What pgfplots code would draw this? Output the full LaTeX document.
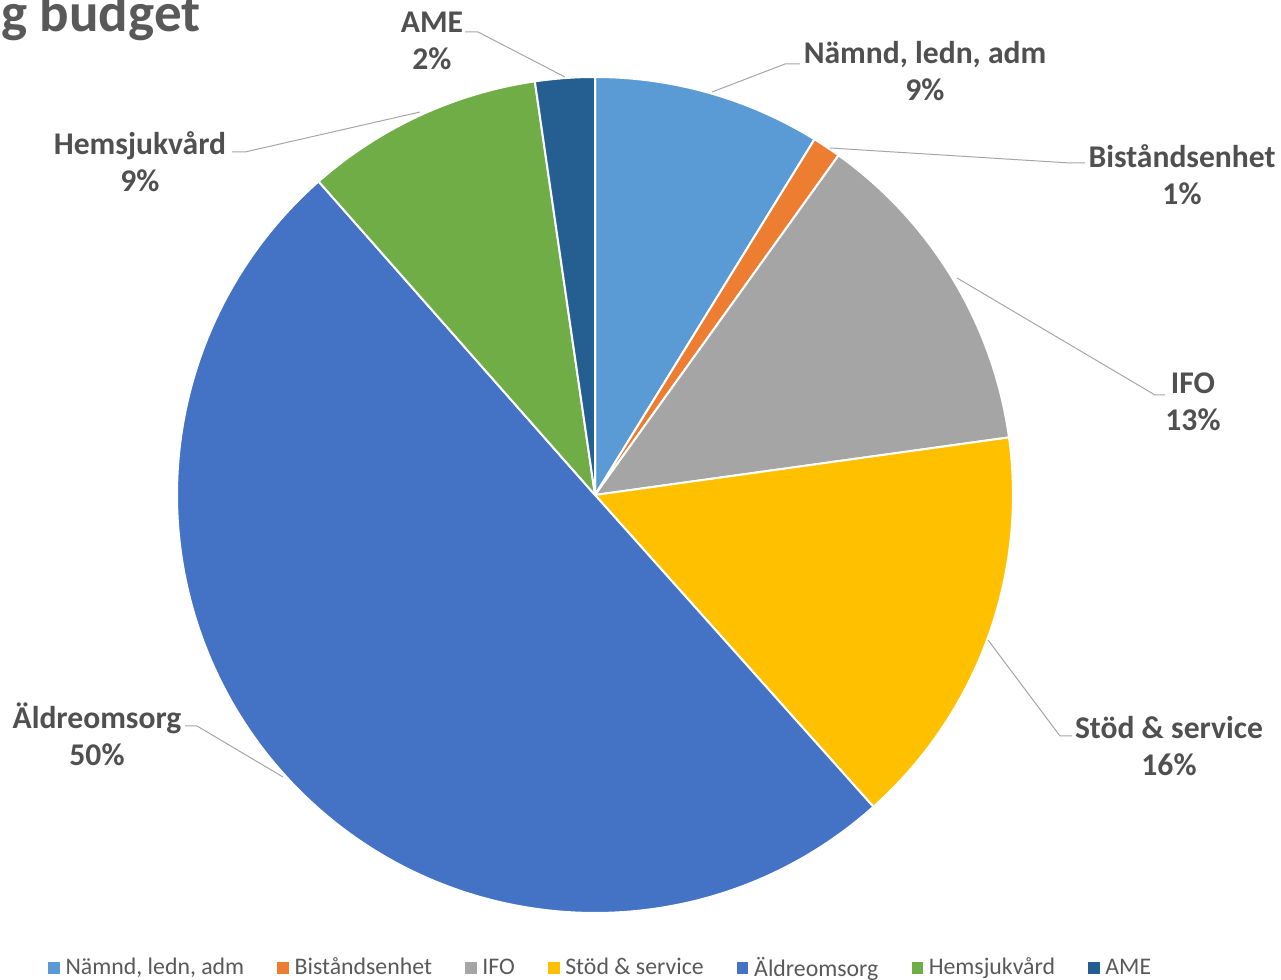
\documentclass[border=0pt]{standalone}
\usepackage{pgfplots}
\pgfplotsset{compat=1.18}
\usepackage{pgfplotstable}
\usepackage{fontspec}
\setmainfont{Carlito}

\definecolor{c1}{HTML}{5B9BD5}
\definecolor{c2}{HTML}{ED7D31}
\definecolor{c3}{HTML}{A5A5A5}
\definecolor{c4}{HTML}{FFC000}
\definecolor{c5}{HTML}{4472C4}
\definecolor{c6}{HTML}{70AD47}
\definecolor{c7}{HTML}{255E91}
\definecolor{lbltext}{HTML}{505050}
\definecolor{ttltext}{HTML}{595959}
\definecolor{leader}{HTML}{A6A6A6}

\tikzset{
    lbl/.style={align=center, text=lbltext,
        font=\fontsize{15.8}{18.5}\selectfont\bfseries, inner sep=0pt},
    ld/.style={draw=leader, line width=0.5pt},
}

% share of the budget, in percent, clockwise from 12 o'clock
\pgfplotstableread{
pct  col
8.8  c1
1.1  c2
12.9 c3
15.6 c4
50.1 c5
9.2  c6
2.3  c7
}\piedata

\begin{document}
\begin{tikzpicture}
\path[use as bounding box] (0,0) rectangle (640.5pt,490pt);
\begin{axis}[
    at={(0,0)}, anchor=south west,
    x=0.5pt, y=0.5pt,
    xmin=-595, xmax=686, ymin=-485, ymax=495,
    hide axis, clip=false,
    legend columns=-1,
    legend style={
        at={(axis cs:-547,-473)}, anchor=west,
        draw=none, fill=none, inner sep=0pt,
        font=\fontsize{11.9}{14}\selectfont, text=ttltext,
        nodes={inner xsep=0pt, inner ysep=1pt, anchor=west},
        /tikz/every odd column/.append style={column sep=3pt},
        /tikz/every even column/.append style={column sep=16.6pt},
    },
]
\pgfplotstablegetrowsof{\piedata}
\pgfmathtruncatemacro\lastrow{\pgfplotsretval-1}
\def\cum{0}
\pgfplotsforeachungrouped \i in {0,...,\lastrow}{
    \pgfplotstablegetelem{\i}{pct}\of\piedata \let\slicepct\pgfplotsretval
    \pgfplotstablegetelem{\i}{col}\of\piedata \let\slicecol\pgfplotsretval
    \pgfmathsetmacro\angA{90-3.6*\cum}
    \pgfmathsetmacro\angB{90-3.6*(\cum+\slicepct)}
    \edef\temp{\noexpand\fill[fill=\slicecol, draw=white, line width=1pt, line join=round]
        (axis cs:0,0) -- (axis cs:{418*cos(\angA)},{418*sin(\angA)})
        arc[start angle=\angA, end angle=\angB, radius=209pt] -- cycle;}
    \temp
    \pgfmathsetmacro\cum{\cum+\slicepct}
}

\addlegendimage{legend image code/.code={\fill[c1] (0pt,-2.6pt) rectangle (5.2pt,2.6pt);}}
\addlegendentry{Nämnd, ledn, adm}
\addlegendimage{legend image code/.code={\fill[c2] (0pt,-2.6pt) rectangle (5.2pt,2.6pt);}}
\addlegendentry{Biståndsenhet}
\addlegendimage{legend image code/.code={\fill[c3] (0pt,-2.6pt) rectangle (5.2pt,2.6pt);}}
\addlegendentry{IFO}
\addlegendimage{legend image code/.code={\fill[c4] (0pt,-2.6pt) rectangle (5.2pt,2.6pt);}}
\addlegendentry{Stöd \& service}
\addlegendimage{legend image code/.code={\fill[c5] (0pt,-2.6pt) rectangle (5.2pt,2.6pt);}}
\addlegendentry{Äldreomsorg}
\addlegendimage{legend image code/.code={\fill[c6] (0pt,-2.6pt) rectangle (5.2pt,2.6pt);}}
\addlegendentry{Hemsjukvård}
\addlegendimage{legend image code/.code={\fill[c7] (0pt,-2.6pt) rectangle (5.2pt,2.6pt);}}
\addlegendentry{AME}

% leader lines
\draw[ld] (axis cs:-30,418) -- (axis cs:-117,463) -- (axis cs:-130,463);
\draw[ld] (axis cs:117,403) -- (axis cs:190,431) -- (axis cs:205,431);
\draw[ld] (axis cs:235,347) -- (axis cs:475,332) -- (axis cs:490,332);
\draw[ld] (axis cs:362,217) -- (axis cs:560,100) -- (axis cs:570,100);
\draw[ld] (axis cs:393,-145) -- (axis cs:465,-241) -- (axis cs:477,-241);
\draw[ld] (axis cs:-312,-282) -- (axis cs:-398,-231) -- (axis cs:-410,-231);
\draw[ld] (axis cs:-175,383) -- (axis cs:-350,343) -- (axis cs:-363,343);

% data labels
\node[lbl] at (axis cs:-163,454) {AME\\2\%};
\node[lbl] at (axis cs:330,423.5) {Nämnd, ledn, adm\\9\%};
\node[lbl] at (axis cs:587,320.5) {Biståndsenhet\\1\%};
\node[lbl] at (axis cs:598,93.5) {IFO\\13\%};
\node[lbl] at (axis cs:574,-251) {Stöd \& service\\16\%};
\node[lbl] at (axis cs:-498,-239.5) {Äldreomsorg\\50\%};
\node[lbl] at (axis cs:-455,333) {Hemsjukvård\\9\%};

% title, cut off at the left and top as in the original
\node[anchor=base west, inner sep=0pt, text=ttltext,
      font=\fontsize{27.5}{33}\selectfont\bfseries] at (axis cs:-594,463) {g budget};
\end{axis}
\end{tikzpicture}
\end{document}
